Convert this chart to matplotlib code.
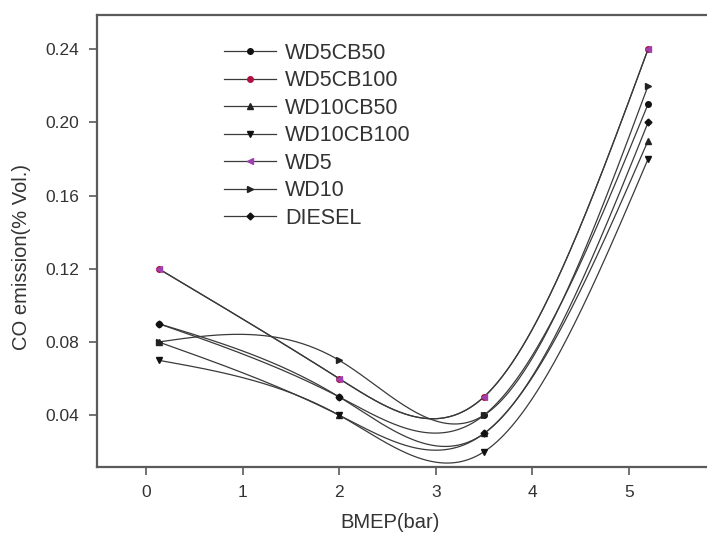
import numpy as np
import matplotlib
matplotlib.use("Agg")
import matplotlib.pyplot as plt

bmep = [0.13, 2.0, 3.5, 5.2]
labels = ["WD5CB50", "WD5CB100", "WD10CB50", "WD10CB100", "WD5", "WD10", "DIESEL"]
wd5cb50 = [0.09, 0.05, 0.04, 0.21]
wd5cb100 = [0.12, 0.06, 0.05, 0.24]
wd10cb50 = [0.08, 0.04, 0.03, 0.19]
wd10cb100 = [0.07, 0.04, 0.02, 0.18]
wd5 = [0.12, 0.06, 0.05, 0.24]
wd10 = [0.08, 0.07, 0.04, 0.22]
diesel = [0.09, 0.05, 0.03, 0.20]
series = [wd5cb50, wd5cb100, wd10cb50, wd10cb100, wd5, wd10, diesel]
markers = ["o", "o", "^", "v", "<", ">", "D"]
mcolors = ["#111111", "#b01040", "#222222", "#111111", "#a040b0", "#222222", "#111111"]
msizes = [4, 4, 4, 4, 4, 4, 3.5]

plt.rcParams["font.family"] = ["Liberation Sans", "DejaVu Sans"]


def natural_spline(x, y, n=300):
    x = np.asarray(x, float)
    y = np.asarray(y, float)
    k = len(x)
    h = np.diff(x)
    A = np.zeros((k, k))
    b = np.zeros(k)
    A[0, 0] = 1
    A[-1, -1] = 1
    for i in range(1, k - 1):
        A[i, i - 1] = h[i - 1]
        A[i, i] = 2 * (h[i - 1] + h[i])
        A[i, i + 1] = h[i]
        b[i] = 6 * ((y[i + 1] - y[i]) / h[i] - (y[i] - y[i - 1]) / h[i - 1])
    M = np.linalg.solve(A, b)
    xs = np.linspace(x[0], x[-1], n)
    ys = np.empty_like(xs)
    for j, xv in enumerate(xs):
        i = min(np.searchsorted(x, xv, side="right") - 1, k - 2)
        t1 = x[i + 1] - xv
        t0 = xv - x[i]
        ys[j] = (M[i] * t1 ** 3 / (6 * h[i]) + M[i + 1] * t0 ** 3 / (6 * h[i])
                 + (y[i] / h[i] - M[i] * h[i] / 6) * t1
                 + (y[i + 1] / h[i] - M[i + 1] * h[i] / 6) * t0)
    return xs, ys


W, H = 707, 549
fig = plt.figure(figsize=(W / 100, H / 100), dpi=100)
ax = fig.add_axes([97 / W, 1 - 467 / H, 1 - 97 / W, (467 - 15) / H])

line_col = "#3a3a3a"
for lab, ys, m, mc, ms in zip(labels, series, markers, mcolors, msizes):
    xs_s, ys_s = natural_spline(bmep, ys)
    ax.plot(xs_s, ys_s, color=line_col, lw=0.9)
    ax.plot(bmep, ys, linestyle="none", marker=m, ms=ms, color=mc)
    ax.plot([], [], color=line_col, lw=0.9, marker=m, ms=ms, mfc=mc, mec=mc, label=lab)

ax.set_xlim(-0.508, 5.81)
ax.set_ylim(0.0117, 0.2586)
ax.set_xticks([0, 1, 2, 3, 4, 5])
ax.set_yticks([0.04, 0.08, 0.12, 0.16, 0.20, 0.24])
ax.set_yticklabels(["0.04", "0.08", "0.12", "0.16", "0.20", "0.24"])
for s in ["left", "bottom", "top"]:
    ax.spines[s].set_color("#5a5a5a")
    ax.spines[s].set_linewidth(1.6)
ax.spines["right"].set_visible(False)
ax.tick_params(direction="out", length=6, width=1.2, color="#5a5a5a",
               labelsize=12.5, labelcolor="#333333", pad=7)
ax.set_xlabel("BMEP(bar)", fontsize=14.5, color="#333333")
ax.xaxis.set_label_coords((390 - 97) / (W - 97), -(522 - 467) / (467 - 15), transform=ax.transAxes)
ax.xaxis.label.set_va("center")
ax.set_ylabel("CO emission(% Vol.)", fontsize=14.5, color="#333333")
ax.yaxis.set_label_coords(-(97 - 22) / (W - 97), (467 - 257) / (467 - 15), transform=ax.transAxes)
ax.yaxis.label.set_va("center")

leg = ax.legend(loc="upper left", bbox_to_anchor=(224 / W, 1 - 43 / H),
                bbox_transform=fig.transFigure, frameon=False,
                fontsize=15.5, handlelength=2.4, labelspacing=0.3, handletextpad=0.45,
                borderpad=0, borderaxespad=0, labelcolor="#333333")

fig.savefig("out.png", dpi=100)
